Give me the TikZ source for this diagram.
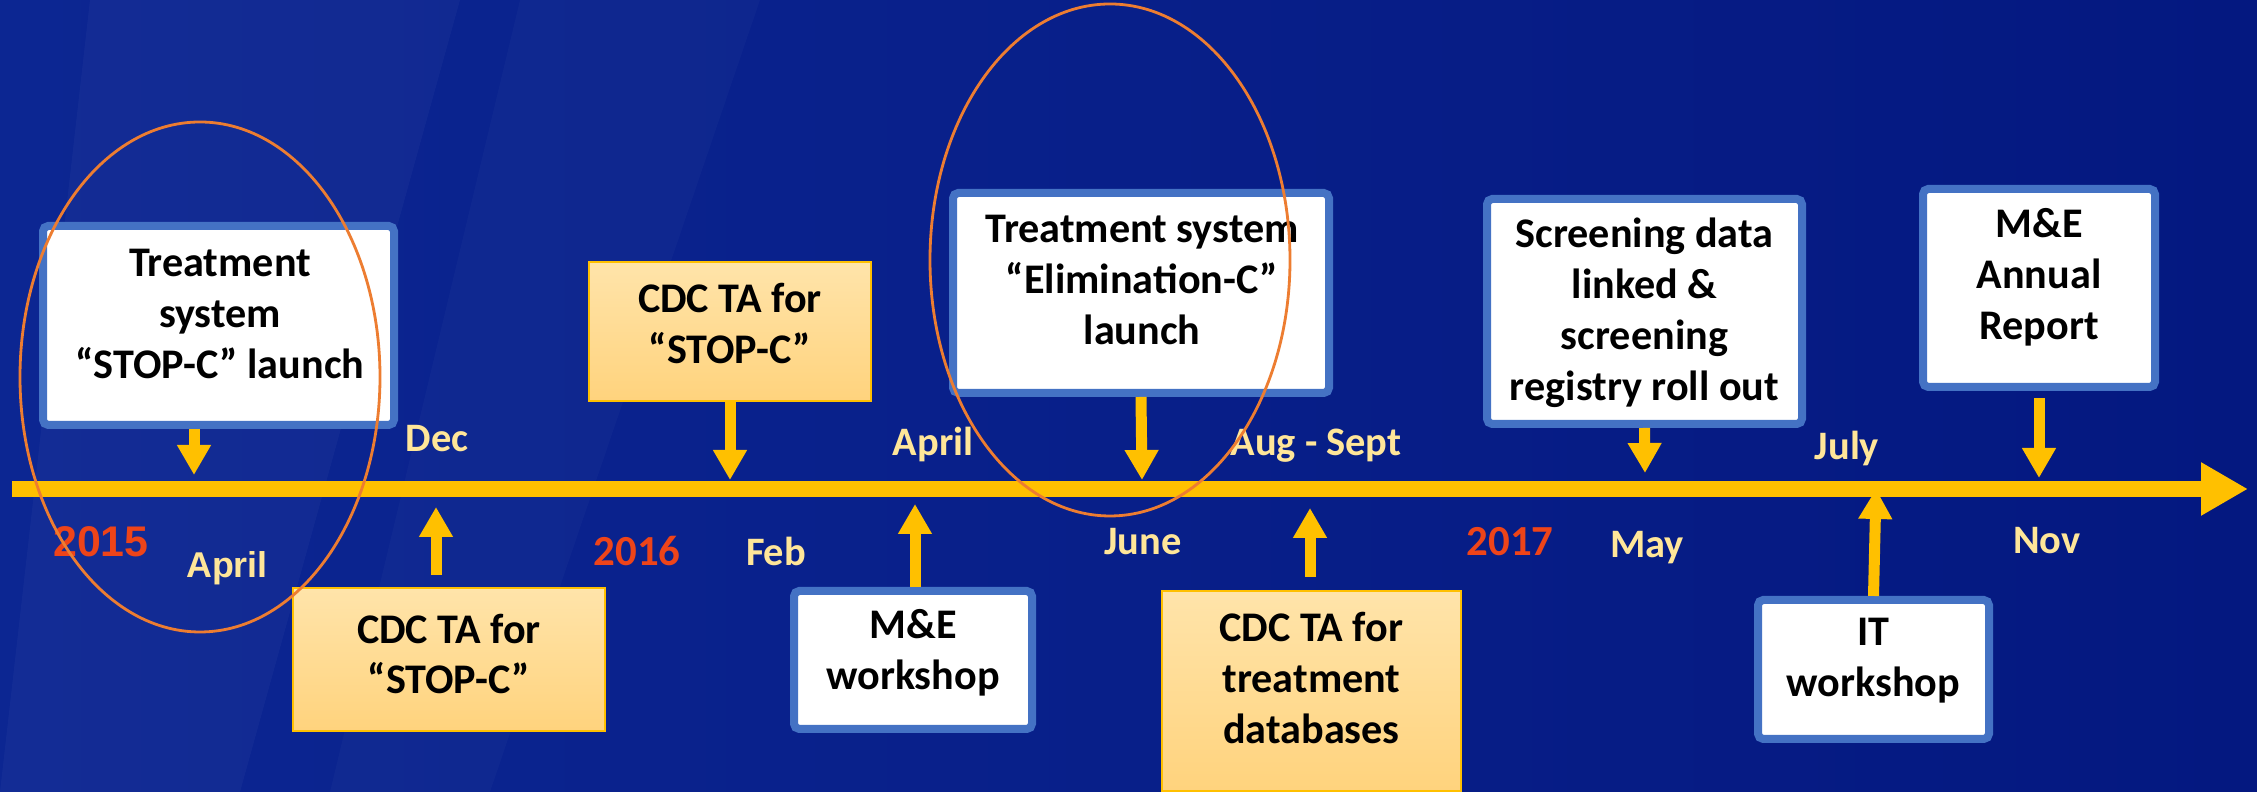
\documentclass[tikz,border=0pt]{standalone}
\usepackage{fontspec}
\setmainfont{Carlito}
\newfontfamily\arialfont{Liberation Sans}
\usetikzlibrary{arrows.meta}

\definecolor{slide}{RGB}{4,24,128}
\definecolor{slidelight}{RGB}{12,38,146}
\definecolor{gold}{RGB}{255,192,0}
\definecolor{monthcol}{RGB}{255,230,153}
\definecolor{yearcol}{RGB}{238,68,25}
\definecolor{boxblue}{RGB}{68,114,196}
\definecolor{tatop}{RGB}{255,228,170}
\definecolor{tabot}{RGB}{255,211,125}
\definecolor{ring}{RGB}{237,125,49}

\begin{document}
\begin{tikzpicture}[
    event/.style={draw=boxblue, line width=0.08cm, fill=white, rounded corners=1.5pt},
    ta/.style={draw=gold, line width=0.6pt, top color=tatop, bottom color=tabot},
    boxtext/.style={font=\bfseries\fontsize{12}{14.5}\selectfont, align=center, inner sep=0pt},
    monthlbl/.style={text=monthcol, font=\bfseries\fontsize{11.5}{13}\selectfont, text height=7.4pt, text depth=0pt, inner sep=0pt},
    yearlbl/.style={text=yearcol, font=\bfseries\fontsize{12.2}{14}\selectfont, text height=7.7pt, text depth=0pt, inner sep=0pt},
    pointer/.style={draw=gold, line width=0.11cm, -{Triangle[width=0.32cm,length=0.3cm]}}
]
                \useasboundingbox (0,0) rectangle (22.57,7.92);
                % slide background with a few faint streaks
                \shade[left color=slidelight, right color=slide] (0,0) rectangle (22.57,7.92);
                \fill[white, opacity=0.03] (0.9,7.92) -- (4.6,7.92) -- (2.4,0) -- (0,0) -- cycle;
                \fill[white, opacity=0.025] (5.2,7.92) -- (7.6,7.92) -- (4.9,0) -- (3.3,0) -- cycle;

                % the time axis
                \coordinate (start) at (0.12,3.03);
                \coordinate (end) at (22.48,3.03);
                \draw[gold, line width=0.16cm, -{Triangle[width=0.5cm,length=0.47cm]}] (start) -- (end);

                % events above the axis
                \node[event, minimum width=3.51cm, minimum height=1.99cm] (stopc) at (2.185,4.665) {};
                \node[boxtext] (stopc-txt) at (2.20,4.78) {Treatment\\system\\“STOP-C” launch};
                \node[ta, minimum width=2.82cm, minimum height=1.39cm] (tastopc) at (7.30,4.605) {};
                \node[boxtext] (tastopc-txt) at (7.30,4.685) {CDC TA for\\“STOP-C”};
                \node[event, minimum width=3.76cm, minimum height=2.00cm] (elim) at (11.41,4.99) {};
                \node[boxtext] (elim-txt) at (11.42,5.12) {Treatment system\\“Elimination-C”\\launch};
                \node[event, minimum width=3.15cm, minimum height=2.25cm] (screen) at (16.445,4.805) {};
                \node[boxtext] (screen-txt) at (16.445,4.79) {Screening data\\linked \&\\screening\\registry roll out};
                \node[event, minimum width=2.32cm, minimum height=1.98cm] (report) at (20.39,5.04) {};
                \node[boxtext] (report-txt) at (20.39,5.15) {M\&E\\Annual\\Report};

                % events below the axis
                \node[ta, minimum width=3.12cm, minimum height=1.43cm] (tafirst) at (4.49,1.325) {};
                \node[boxtext] (tafirst-txt) at (4.49,1.38) {CDC TA for\\“STOP-C”};
                \node[event, minimum width=2.38cm, minimum height=1.38cm] (mews) at (9.13,1.32) {};
                \node[boxtext] (mews-txt) at (9.13,1.39) {M\&E\\workshop};
                \node[ta, minimum width=2.99cm, minimum height=2.00cm] (tadb) at (13.115,1.01) {};
                \node[boxtext] (tadb-txt) at (13.115,1.14) {CDC TA for\\treatment\\databases};
                \node[event, minimum width=2.31cm, minimum height=1.39cm] (itws) at (18.735,1.225) {};
                \node[boxtext] (itws-txt) at (18.735,1.31) {IT\\workshop};

                % where each pointer lands
                \coordinate (pA) at (1.94,3.17);
                \coordinate (pB) at (4.36,2.85);
                \coordinate (pC) at (7.30,3.12);
                \coordinate (pD) at (9.15,2.88);
                \coordinate (pE) at (11.42,3.12);
                \coordinate (pF) at (13.10,2.84);
                \coordinate (pG) at (16.45,3.19);
                \coordinate (pH) at (20.39,3.14);
                \coordinate (pI) at (18.76,3.03);
                \draw[pointer] (stopc.south -| pA) -- (pA);
                \draw[pointer] ([yshift=0.12cm]tafirst.north -| pB) -- (pB);
                \draw[pointer] (tastopc.south) -- (pC);
                \draw[pointer] (mews.north -| pD) -- (pD);
                \draw[pointer] (elim.south) -- (pE);
                \draw[pointer] ([yshift=0.13cm]tadb.north -| pF) -- (pF);
                \draw[pointer] (screen.south) -- (pG);
                \draw[pointer] ([yshift=-0.07cm]report.south) -- (pH);
                \draw[pointer] (itws.north) -- (pI);

                % months and years
                \node[yearlbl, font=\arialfont\bfseries\fontsize{12.2}{14}\selectfont, text height=8.7pt] (y15) at (1.01,2.51) {2015};
                \node[monthlbl, font=\arialfont\bfseries\fontsize{10.2}{12}\selectfont, text height=7.3pt] (apr15) at (2.27,2.275) {April};
                \node[monthlbl] (dec15) at (4.37,3.53) {Dec};
                \node[yearlbl] (y16) at (6.37,2.40) {2016};
                \node[monthlbl] (feb16) at (7.76,2.39) {Feb};
                \node[monthlbl] (apr16) at (9.33,3.49) {April};
                \node[monthlbl] (jun16) at (11.43,2.50) {June};
                \node[monthlbl] (aug16) at (13.16,3.49) {Aug - Sept};
                \node[yearlbl] (y17) at (15.10,2.50) {2017};
                \node[monthlbl] (may17) at (16.47,2.47) {May};
                \node[monthlbl] (jul17) at (18.47,3.45) {July};
                \node[monthlbl] (nov17) at (20.47,2.51) {Nov};

                % the two launches ringed
                \draw[ring, line width=0.8pt] (2.00,4.15) ellipse [x radius=1.80, y radius=2.55];
                \draw[ring, line width=0.8pt] (11.10,5.32) ellipse [x radius=1.80, y radius=2.56];
\end{tikzpicture}
\end{document}
